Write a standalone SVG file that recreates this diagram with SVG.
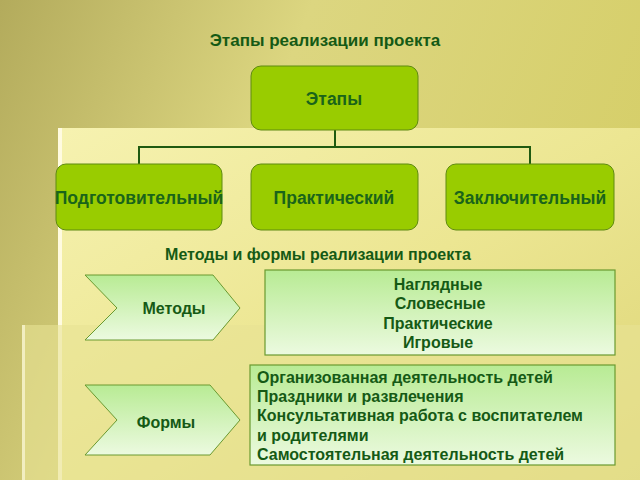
<svg xmlns="http://www.w3.org/2000/svg" width="640" height="480" viewBox="0 0 640 480">
<defs>
<linearGradient id="bg" x1="0" y1="0" x2="1" y2="0.3"><stop offset="0" stop-color="#b3ab5c"/><stop offset="0.45" stop-color="#dcd680"/><stop offset="1" stop-color="#d6cf6a"/></linearGradient>
<linearGradient id="pan" x1="0" y1="0" x2="1" y2="1"><stop offset="0" stop-color="#f6f2b0"/><stop offset="0.5" stop-color="#ece692"/><stop offset="1" stop-color="#ddd577"/></linearGradient>
<linearGradient id="lg" x1="0" y1="0" x2="0" y2="1"><stop offset="0" stop-color="#b8eb94"/><stop offset="1" stop-color="#ecfae0"/></linearGradient>
</defs>
<style>
.g{fill:#99cc00;stroke:#5e8a10;stroke-width:1}
.c{fill:url(#lg);stroke:#6a9a30;stroke-width:1}
.b{fill:url(#lg);stroke:#6a9a30;stroke-width:1.2}
text{font-family:"Liberation Sans",Arial,sans-serif;font-weight:bold;fill:#1a641a;font-size:17.5px}
.h{fill:#155a15;font-size:16px}
.t{font-size:17px}
.conn{fill:none;stroke:#1f5a10;stroke-width:2}
</style>
<rect width="640" height="480" fill="url(#bg)"/>
<rect x="60" y="128" width="580" height="352" fill="url(#pan)"/>
<rect x="58" y="128" width="4" height="352" fill="#fffbe0"/>
<rect x="22" y="325" width="618" height="155" fill="#e8e295" opacity="0.6"/>
<rect x="22" y="325" width="3" height="155" fill="#f2eec0"/>
<text class="h t" x="325" y="46" text-anchor="middle">Этапы реализации проекта</text>
<text class="h" x="318" y="260" text-anchor="middle">Методы и формы реализации проекта</text>
<g id="connectors"><path class="conn" d="M335 130V147M139 164V147H530V164"/></g>
<g id="n-etapy"><rect class="g" x="251" y="66" width="167" height="64" rx="10"/><text x="334" y="105" text-anchor="middle">Этапы</text></g>
<g id="n-podg"><rect class="g" x="56" y="164" width="166" height="66" rx="10"/><text x="139" y="204" text-anchor="middle">Подготовительный</text></g>
<g id="n-prakt"><rect class="g" x="251" y="164" width="167" height="66" rx="10"/><text x="334" y="204" text-anchor="middle">Практический</text></g>
<g id="n-zakl"><rect class="g" x="446" y="164" width="168" height="66" rx="10"/><text x="530" y="204" text-anchor="middle">Заключительный</text></g>
<g id="n-metody"><polygon class="c" points="85,275 213,275 240,308 213,340 85,340 117,308"/><text class="h" x="174" y="314" text-anchor="middle">Методы</text></g>
<g id="n-formy"><polygon class="c" points="85,385 210,385 240,420 210,455 85,455 117,420"/><text class="h" x="166" y="428" text-anchor="middle">Формы</text></g>
<g id="n-list1"><rect class="b" x="265" y="270" width="350" height="85"/>
<text class="h" text-anchor="middle"><tspan x="438" y="290">Наглядные</tspan><tspan x="440" y="309">Словесные</tspan><tspan x="438" y="329">Практические</tspan><tspan x="438" y="348">Игровые</tspan></text></g>
<g id="n-list2"><rect class="b" x="250" y="365" width="365" height="100"/>
<text class="h"><tspan x="257" y="383">Организованная деятельность детей</tspan><tspan x="257" y="402">Праздники и развлечения</tspan><tspan x="257" y="421">Консультативная работа с воспитателем</tspan><tspan x="257" y="441">и родителями</tspan><tspan x="257" y="460">Самостоятельная деятельность детей</tspan></text></g>
</svg>
